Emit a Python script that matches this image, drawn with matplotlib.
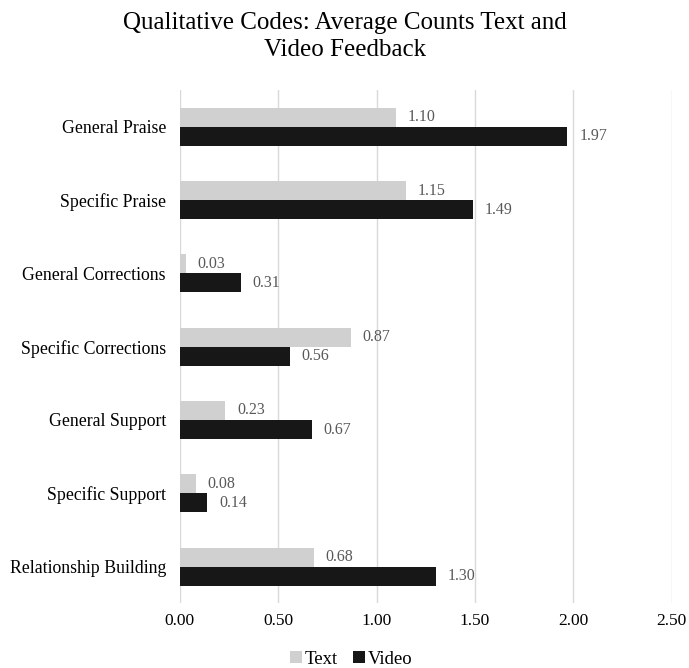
import numpy as np
import matplotlib.pyplot as plt

plt.rcParams['font.family'] = ['Liberation Serif', 'DejaVu Serif']

categories = ['General Praise', 'Specific Praise', 'General Corrections',
              'Specific Corrections', 'General Support', 'Specific Support',
              'Relationship Building']
text_vals = [1.10, 1.15, 0.03, 0.87, 0.23, 0.08, 0.68]
video_vals = [1.97, 1.49, 0.31, 0.56, 0.67, 0.14, 1.30]
xticks = [0.0, 0.5, 1.0, 1.5, 2.0, 2.5]

fig = plt.figure(figsize=(6.89, 6.68), dpi=100)
ax = fig.add_axes([0.261, 0.097, 0.714, 0.768])

y = np.arange(len(categories))
h = 0.26
b1 = ax.barh(y - h/2, text_vals, height=h, color='#d0d0d0', label='Text', zorder=2)
b2 = ax.barh(y + h/2, video_vals, height=h, color='#171717', label='Video', zorder=2)

for bars, vals in ((b1, text_vals), (b2, video_vals)):
    for bar, v in zip(bars, vals):
        ax.text(v + 0.06, bar.get_y() + bar.get_height()/2, f'{v:.2f}',
                va='center', ha='left', fontsize=11.5, color='#595959')

ax.set_ylim(len(categories) - 0.5, -0.5)
ax.set_xlim(0, 2.5)
ax.set_xticks(xticks)
ax.set_xticklabels([f'{t:.2f}' for t in xticks], fontsize=12.5)
ax.set_yticks(y)
ax.set_yticklabels(categories, fontsize=12.8)
ax.tick_params(axis='x', length=0, pad=7)
ax.tick_params(axis='y', length=0, pad=10)
ax.grid(axis='x', color='#d9d9d9', linewidth=1, zorder=0)
for s in ax.spines.values():
    s.set_visible(False)

fig.suptitle('Qualitative Codes: Average Counts Text and\nVideo Feedback',
             fontsize=18, y=0.982, linespacing=1.3)
fig.legend(loc='lower center', ncol=2, frameon=False, fontsize=13.5,
           bbox_to_anchor=(0.51, -0.025), handlelength=0.65, handleheight=0.65,
           handletextpad=0.15, columnspacing=0.8)

fig.savefig('out.png', dpi=100)
